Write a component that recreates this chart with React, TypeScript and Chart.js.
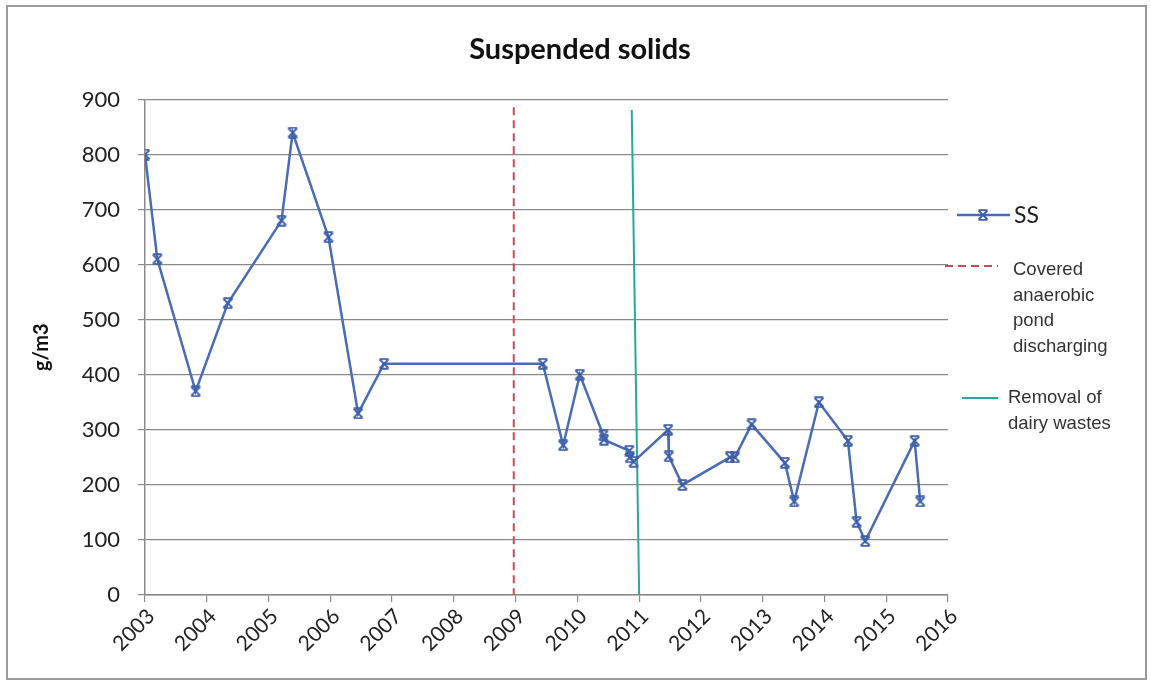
import React, { useEffect, useRef } from "react";
import { Chart, registerables } from "chart.js";

Chart.register(...registerables);

const titleText = "Suspended solids";
const yTitle = "g/m3";
const yearTicks = ["2003", "2004", "2005", "2006", "2007", "2008", "2009", "2010", "2011", "2012", "2013", "2014", "2015", "2016"];

const ssDates = [
  2003.0, 2003.2, 2003.82, 2004.34, 2005.21, 2005.39, 2005.97, 2006.45, 2006.87,
  2009.44, 2009.77, 2010.04, 2010.42, 2010.43, 2010.84, 2010.85, 2010.91,
  2011.47, 2011.48, 2011.7, 2012.47, 2012.55, 2012.82, 2013.36, 2013.51,
  2013.91, 2014.38, 2014.52, 2014.66, 2015.46, 2015.55,
];
const ssValues = [
  800, 610, 370, 530, 680, 840, 650, 330, 420,
  420, 272, 400, 290, 282, 262, 250, 242,
  300, 252, 200, 250, 250, 310, 240, 170,
  350, 280, 133, 98, 280, 170,
];

const coveredX = [2008.97, 2008.97];
const coveredY = [886, 0];
const removalX = [2010.88, 2011.0];
const removalY = [881, 0];

const legendSS = "SS";
const legendCovered = ["Covered", "anaerobic", "pond", "discharging"];
const legendRemoval = ["Removal of", "dairy wastes"];

const BLUE = "#4a6cb3";
const RED = "#c84a5e";
const TEAL = "#2aa69a";
const GRID = "#8a8a8a";

function makeMarker(): HTMLCanvasElement {
  const c = document.createElement("canvas");
  c.width = 12;
  c.height = 12;
  const g = c.getContext("2d")!;
  g.strokeStyle = "#3d5ea8";
  g.lineWidth = 1.8;
  g.beginPath();
  g.moveTo(1.5, 1.5); g.lineTo(10.5, 10.5);
  g.moveTo(10.5, 1.5); g.lineTo(1.5, 10.5);
  g.moveTo(1.5, 1.2); g.lineTo(10.5, 1.2);
  g.moveTo(1.5, 10.8); g.lineTo(10.5, 10.8);
  g.stroke();
  return c;
}

export default function App() {
  const ref = useRef<HTMLCanvasElement | null>(null);

  useEffect(() => {
    const canvas = ref.current;
    if (!canvas) return;
    const marker = makeMarker();

    const framePlugin = {
      id: "frame",
      beforeDraw(chart: any) {
        const ctx = chart.ctx;
        ctx.save();
        ctx.fillStyle = "#ffffff";
        ctx.fillRect(0, 0, chart.width, chart.height);
        ctx.strokeStyle = "#9a9a9a";
        ctx.lineWidth = 2;
        ctx.strokeRect(7, 6, 1139, 673);
        ctx.restore();
      },
      afterDraw(chart: any) {
        const ctx = chart.ctx;
        ctx.save();
        // Title
        ctx.fillStyle = "#111";
        ctx.textAlign = "center";
        ctx.textBaseline = "middle";
        ctx.font = "bold 29px Lato";
        ctx.fillText(titleText, 580, 50);
        // SS
        ctx.strokeStyle = BLUE;
        ctx.lineWidth = 2.5;
        ctx.beginPath();
        ctx.moveTo(957, 215);
        ctx.lineTo(1010, 215);
        ctx.stroke();
        ctx.drawImage(marker, 983 - 6, 215 - 6);
        ctx.fillStyle = "#222";
        ctx.textBaseline = "middle";
        ctx.textAlign = "left";
        ctx.font = "23px Lato";
        ctx.fillText(legendSS, 1014, 216);
        // Covered
        ctx.strokeStyle = RED;
        ctx.lineWidth = 2;
        ctx.setLineDash([8, 5]);
        ctx.beginPath();
        ctx.moveTo(945, 266);
        ctx.lineTo(998, 266);
        ctx.stroke();
        ctx.setLineDash([]);
        ctx.fillStyle = "#333";
        ctx.font = '18.5px "Liberation Sans Narrow", "Liberation Sans", Arial';
        legendCovered.forEach((t, i) => ctx.fillText(t, 1013, 270 + i * 25.5));
        // Removal
        ctx.strokeStyle = TEAL;
        ctx.lineWidth = 2;
        ctx.beginPath();
        ctx.moveTo(962, 398);
        ctx.lineTo(998, 398);
        ctx.stroke();
        legendRemoval.forEach((t, i) => ctx.fillText(t, 1008, 398 + i * 25.5));
        ctx.restore();
      },
    };

    const chart = new Chart(canvas, {
      type: "line",
      data: {
        datasets: [
          {
            label: legendSS,
            data: ssDates.map((x, i) => ({ x, y: ssValues[i] })),
            borderColor: BLUE,
            backgroundColor: BLUE,
            borderWidth: 2.5,
            pointStyle: marker as any,
            pointRadius: 6,
            tension: 0,
          },
          {
            label: legendCovered.join(" "),
            data: coveredX.map((x, i) => ({ x, y: coveredY[i] })),
            borderColor: RED,
            borderWidth: 2,
            borderDash: [8, 5],
            pointRadius: 0,
          },
          {
            label: legendRemoval.join(" "),
            data: removalX.map((x, i) => ({ x, y: removalY[i] })),
            borderColor: TEAL,
            borderWidth: 2,
            pointRadius: 0,
          },
        ],
      },
      options: {
        responsive: false,
        animation: false,
        layout: { padding: { left: 0, right: 203, top: 99.5, bottom: 0 } },
        plugins: {
          legend: { display: false },
          tooltip: { enabled: false },
          title: { display: false },
        },
        scales: {
          x: {
            type: "linear",
            min: 2003,
            max: 2016,
            afterFit: (s: any) => { s.height = 87; },
            ticks: {
              stepSize: 1,
              autoSkip: false,
              minRotation: 45,
              maxRotation: 45,
              padding: 2,
              labelOffset: 6,
              color: "#222",
              font: { family: "Lato", size: 21 },
              callback: (v: any) => yearTicks[Math.round(v - 2003)],
            },
            grid: {
              drawOnChartArea: false,
              drawTicks: true,
              tickLength: 7,
              color: GRID,
              lineWidth: 1.2,
            },
            border: { color: GRID, width: 1.5 },
          },
          y: {
            min: 0,
            max: 900,
            afterFit: (s: any) => { s.width = 145; },
            ticks: {
              stepSize: 100,
              padding: 18,
              color: "#222",
              font: { family: "Lato", size: 22 },
            },
            grid: {
              color: GRID,
              lineWidth: 1.2,
              tickLength: 7,
            },
            border: { color: GRID, width: 1.5 },
            title: {
              display: true,
              text: yTitle,
              color: "#111",
              font: { family: "Lato", size: 20, weight: "bold" },
              padding: { top: 30, bottom: 0 },
            },
          },
        },
      },
      plugins: [framePlugin],
    } as any);

    return () => chart.destroy();
  }, []);

  return (
    <div style={{ position: "fixed", left: 0, top: 0, width: 1151, height: 682, background: "#fff" }}>
      <canvas ref={ref} width={1151} height={682} style={{ display: "block" }} />
    </div>
  );
}
